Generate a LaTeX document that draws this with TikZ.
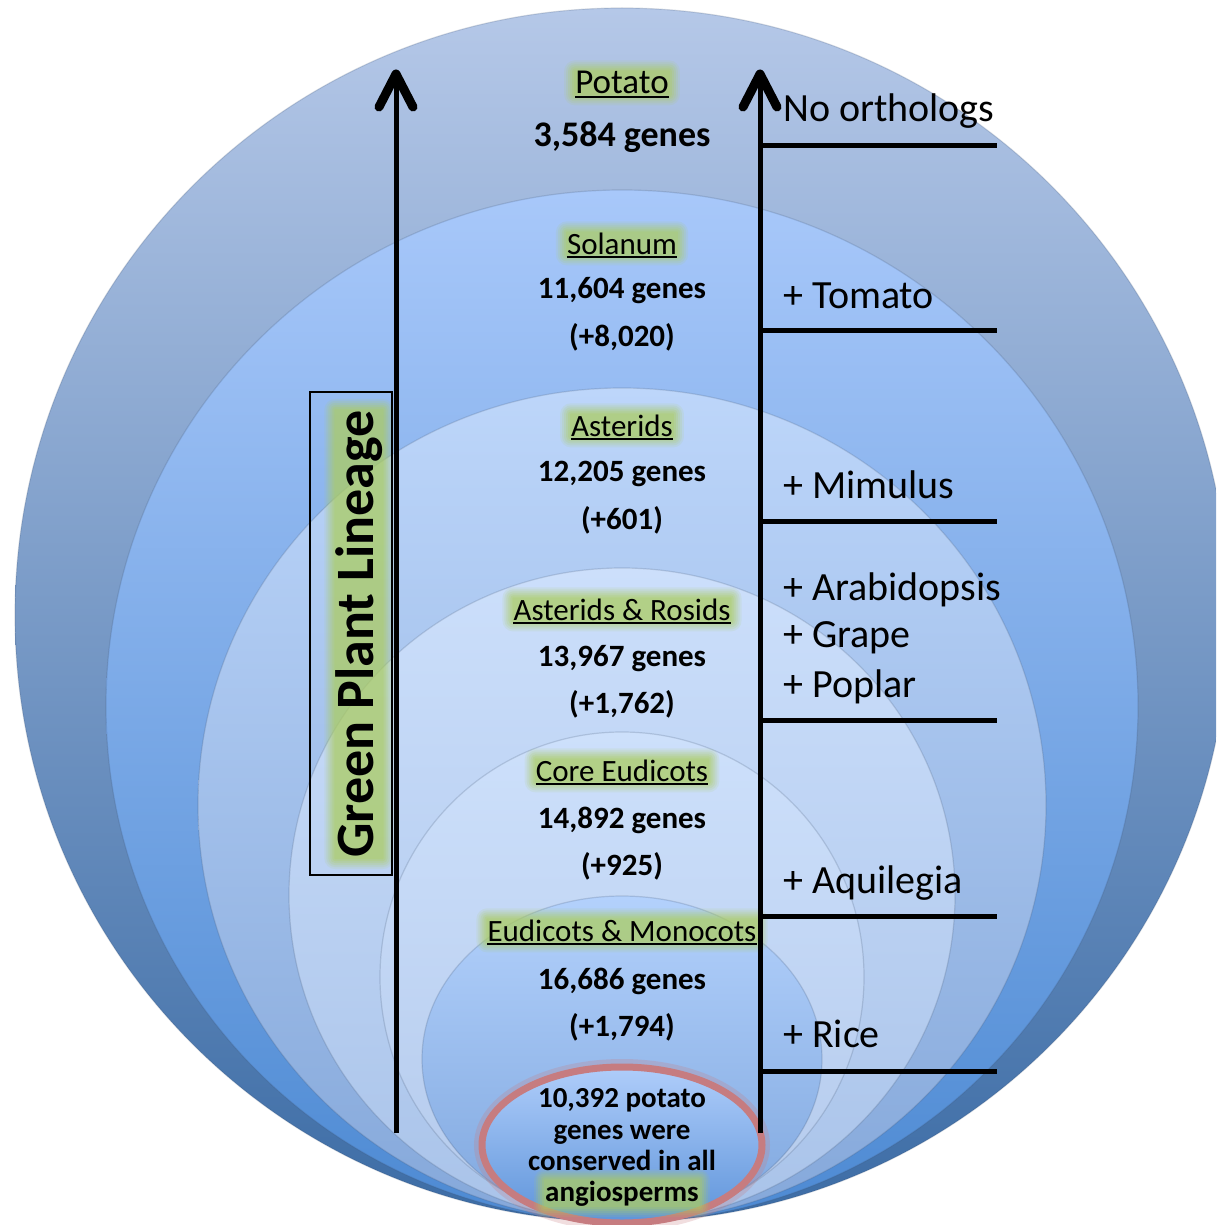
\documentclass[tikz,border=0pt]{standalone}
\usepackage{fontspec}
\setmainfont{Carlito}
\pgfdeclarelayer{bg}
\pgfdeclarelayer{fg}
\pgfsetlayers{bg,main,fg}
\definecolor{eAt}{RGB}{181,200,232}
\definecolor{eAb}{RGB}{60,108,165}
\definecolor{eBt}{RGB}{168,200,250}
\definecolor{eBb}{RGB}{77,138,211}
\definecolor{eCt}{RGB}{189,214,250}
\definecolor{eCb}{RGB}{133,168,218}
\definecolor{eDt}{RGB}{204,223,251}
\definecolor{eDb}{RGB}{169,195,233}
\definecolor{eEt}{RGB}{205,224,251}
\definecolor{eEb}{RGB}{180,202,236}
\definecolor{eFt}{RGB}{179,209,252}
\definecolor{eFb}{RGB}{127,167,222}
\definecolor{rIt}{RGB}{175,205,250}
\definecolor{rIb}{RGB}{94,148,218}
\definecolor{ringc}{RGB}{198,124,128}
\definecolor{glowc}{RGB}{172,205,100}
\definecolor{edgec}{RGB}{60,80,110}
\newcommand\glowbox[1]{%
  \foreach \gr/\go in {11/0.12,9/0.15,7/0.18,5/0.22,3/0.27,1/0.3}{%
    \fill[glowc, fill opacity=\go, rounded corners=\gr pt]
      ([shift={(-\gr pt,-\gr pt)}]#1.south west) rectangle ([shift={(\gr pt,\gr pt)}]#1.north east);}}
\newcommand\glowboxrot[1]{%
  \foreach \gr/\go in {11/0.12,9/0.15,7/0.18,5/0.22,3/0.27,1/0.3}{%
    \fill[glowc, fill opacity=\go, rounded corners=\gr pt]
      ([shift={(-\gr pt,\gr pt)}]#1.north east) rectangle ([shift={(\gr pt,-\gr pt)}]#1.south west);}}
\begin{document}
\begin{tikzpicture}[x=1pt,y=-1pt,
  ell/.style={draw=edgec, draw opacity=0.2, line width=1.2pt},
  ttl/.style={inner sep=0pt, anchor=base, font=\fontsize{31}{31}\selectfont},
  cnt/.style={inner sep=0pt, anchor=base, font=\fontsize{31}{31}\selectfont\bfseries},
  spc/.style={inner sep=0pt, anchor=base west, font=\fontsize{40}{40}\selectfont},
  red/.style={inner sep=0pt, anchor=base, font=\fontsize{29}{29}\selectfont\bfseries},
  bar/.style={line width=5pt},
  head/.style={line width=9pt, line cap=round, line join=round},
  uline/.style={line width=1.8pt}]
\useasboundingbox (0,0) rectangle (1216,1225);
\begin{pgfonlayer}{bg}
\clip (0,0) rectangle (1216,1225);
\shade[ell, top color=eAt, bottom color=eAb] (622,615) ellipse [x radius=607, y radius=607];
\shade[ell, top color=eBt, bottom color=eBb] (622,706) ellipse [x radius=516, y radius=516];
\shade[ell, top color=eCt, bottom color=eCb] (622,805) ellipse [x radius=424, y radius=417];
\shade[ell, top color=eDt, bottom color=eDb] (622,895) ellipse [x radius=333, y radius=327];
\shade[ell, top color=eEt, bottom color=eEb] (622,977) ellipse [x radius=242, y radius=245];
\shade[ell, top color=eFt, bottom color=eFb] (622,1059) ellipse [x radius=200, y radius=163];
\draw[ringc, line width=16pt, opacity=0.25] (622,1145) ellipse [x radius=140, y radius=78];
\shade[top color=rIt, bottom color=rIb, draw=ringc, line width=7pt] (622,1145) ellipse [x radius=140, y radius=78];
\end{pgfonlayer}

\begin{pgfonlayer}{fg}
% central labels
\node[ttl, font=\fontsize{35}{35}\selectfont] (potato) at (622,94) {Potato};
\node[cnt, font=\fontsize{36}{36}\selectfont\bfseries] (n1) at (622,147) {3,584 genes};
\node[ttl] (solanum) at (622,254) {Solanum};
\node[cnt] (n2) at (622,298) {11,604 genes};
\node[cnt] (d2) at (622,346) {(+8,020)};
\node[ttl] (asterids) at (622,436) {Asterids};
\node[cnt] (n3) at (622,481) {12,205 genes};
\node[cnt] (d3) at (622,529) {(+601)};
\node[ttl] (rosids) at (622,620) {Asterids \& Rosids};
\node[cnt] (n4) at (622,666) {13,967 genes};
\node[cnt] (d4) at (622,713) {(+1,762)};
\node[ttl] (core) at (622,781) {Core Eudicots};
\node[cnt] (n5) at (622,828) {14,892 genes};
\node[cnt] (d5) at (622,875) {(+925)};
\node[ttl] (mono) at (622,941) {Eudicots \& Monocots};
\node[cnt] (n6) at (622,989) {16,686 genes};
\node[cnt] (d6) at (622,1036) {(+1,794)};
\node[red] (r1) at (622,1107) {10,392 potato};
\node[red] (r2) at (622,1139) {genes were};
\node[red] (r3) at (622,1170) {conserved in all};
\node[red] (r4) at (622,1201) {angiosperms};
% species
\node[spc] (s0) at (783,122) {No orthologs};
\node[spc] (s1) at (783,308) {+ Tomato};
\node[spc] (s2) at (783,498) {+ Mimulus};
\node[spc] (s3) at (783,600) {+ Arabidopsis};
\node[spc] (s4) at (783,647) {+ Grape};
\node[spc] (s5) at (783,697) {+ Poplar};
\node[spc] (s6) at (783,893) {+ Aquilegia};
\node[spc] (s7) at (783,1047) {+ Rice};
% lineage
\node[draw, line width=1.3pt, minimum width=82pt, minimum height=483pt, inner sep=0pt] (box) at (351,633.5) {};
\node[rotate=90, inner sep=0pt, font=\fontsize{54}{54}\selectfont\bfseries] (gpl) at (359,634) {Green Plant Lineage};
% underlines
\foreach \n in {potato,solanum,asterids,rosids,core,mono}{
  \draw[uline] ([yshift=-3pt]\n.base west) -- ([yshift=-3pt]\n.base east);}
% arrows
\coordinate (lb) at (396,1133);
\coordinate (lt) at (396,74);
\coordinate (rb) at (760,1133);
\coordinate (rt) at (760,74);
\draw[bar] (lb) -- (lt);
\draw[bar] (rb) -- (rt);
\draw[head] ([shift={(-17,33)}]lt) -- (lt) -- ([shift={(17,33)}]lt);
\draw[head] ([shift={(-17,33)}]rt) -- (rt) -- ([shift={(17,33)}]rt);
\foreach \y [count=\i] in {146,330,521,720,916,1071}{
  \coordinate (h\i a) at (760,\y);
  \coordinate (h\i b) at (997,\y);
  \draw[bar] (h\i a) -- (h\i b);}
\end{pgfonlayer}

% glows (main layer: between ellipses and text)
\foreach \n in {potato,solanum,asterids,rosids,core,mono,r4}{\glowbox{\n}}
\glowboxrot{gpl}
\end{tikzpicture}
\end{document}
